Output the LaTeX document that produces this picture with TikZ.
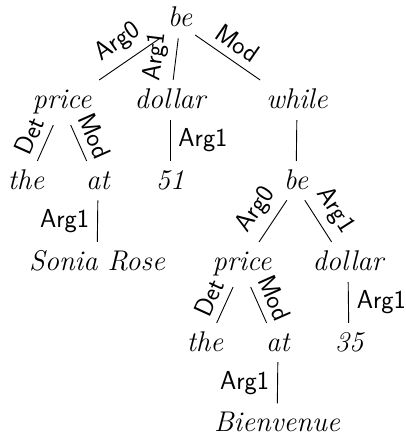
\documentclass[tikz,border=0pt]{standalone}
\usepackage{fontspec}
\usetikzlibrary{calc}
\begin{document}
\begin{tikzpicture}[x=1pt,y=-1pt,
  word/.style={font=\fontsize{28.5}{34}\selectfont\itshape, inner sep=0pt,
    text height=7pt, text depth=2pt, anchor=base},
  edgelab/.style={font=\fontsize{26}{31}\selectfont\sffamily, inner sep=8pt},
  edgeline/.style={line width=0.9pt, black}]
\useasboundingbox (0,0) rectangle (406,436);
% #1 start fraction, #2 parent, #3 child, #4 label options, #5 label
\newcommand\tedge[5]{\draw[edgeline] ($(#2)!#1!(#3)$) -- node[edgelab,#4]{#5} ($(#2)!0.685!(#3)$);}
% nodes
\node[word] (be1) at (180,27) {be};
\node[word] (price1) at (62,108) {price};
\node[word] (dollar1) at (170,108) {dollar};
\node[word] (while) at (297,108) {while};
\node[word] (the1) at (26,189) {the};
\node[word] (at1) at (98,189) {at};
\node[word] (n51) at (170,189) {51};
\node[word] (be2) at (296,189) {be};
\node[word] (sonia) at (97,270) {Sonia Rose};
\node[word] (price2) at (242,270) {price};
\node[word] (dollar2) at (348,270) {dollar};
\node[word] (the2) at (205,351) {the};
\node[word] (at2) at (278,351) {at};
\node[word] (n35) at (349,351) {35};
\node[word] (bien) at (277,431) {Bienvenue};
% edges
\tedge{0.17}{be1}{price1}{above,sloped}{Arg0}
\tedge{0.17}{be1}{dollar1}{above,sloped}{Arg1}
\tedge{0.13}{be1}{while}{above,sloped}{Mod}
\tedge{0.24}{price1}{the1}{above,sloped}{Det}
\tedge{0.24}{price1}{at1}{above,sloped}{Mod}
\tedge{0.18}{dollar1}{n51}{right}{Arg1}
\draw[edgeline] ($(while)!0.18!(be2)$) -- ($(while)!0.685!(be2)$);
\tedge{0.17}{at1}{sonia}{left}{Arg1}
\tedge{0.17}{be2}{price2}{above,sloped}{Arg0}
\tedge{0.17}{be2}{dollar2}{above,sloped}{Arg1}
\tedge{0.24}{price2}{the2}{above,sloped}{Det}
\tedge{0.24}{price2}{at2}{above,sloped}{Mod}
\tedge{0.18}{dollar2}{n35}{right}{Arg1}
\tedge{0.17}{at2}{bien}{left}{Arg1}
\end{tikzpicture}
\end{document}
